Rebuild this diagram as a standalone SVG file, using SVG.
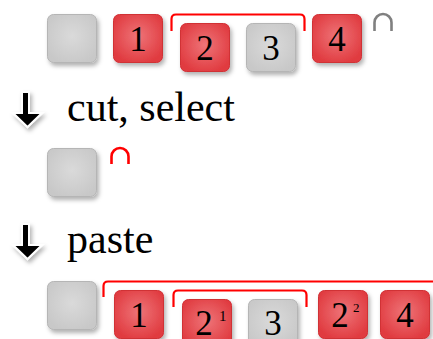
<svg xmlns="http://www.w3.org/2000/svg" width="433" height="339" viewBox="0 0 433 339">
<defs>
<radialGradient id="gr" cx="50%" cy="45%" r="60%">
<stop offset="0" stop-color="#ee7478"/>
<stop offset="1" stop-color="#e03a3f"/>
</radialGradient>
<radialGradient id="gg" cx="50%" cy="45%" r="60%">
<stop offset="0" stop-color="#dadada"/>
<stop offset="1" stop-color="#c8c8c8"/>
</radialGradient>
<filter id="sh" x="-30%" y="-30%" width="170%" height="170%">
<feDropShadow dx="2" dy="3" stdDeviation="2.2" flood-color="#000" flood-opacity="0.3"/>
</filter>
<path id="arr" d="M22,92 H29 V113 H42 L27.5,127 L13,113 H22 Z"/>
</defs>
<style>
.r{fill:url(#gr);stroke:#d03035;stroke-width:1;filter:url(#sh)}
.g{fill:url(#gg);stroke:#b5b5b5;stroke-width:1;filter:url(#sh)}
.d{font-family:"Liberation Serif",serif;font-size:35px;fill:#000;text-anchor:middle}
.s{font-family:"Liberation Serif",serif;font-size:15px;fill:#000}
.lbl{font-family:"Liberation Serif",serif;font-size:42px;fill:#000}
.br{fill:none;stroke:#ff0000;stroke-width:2.2}
.cap{fill:none;stroke-width:2.6}
.ar{fill:#000;stroke:#fff;stroke-width:2;filter:url(#sh)}
</style>

<g id="row1">
<g id="r1-empty"><rect class="g" x="47.5" y="14.5" width="49" height="48" rx="6"/></g>
<g id="r1-n1"><rect class="r" x="113.5" y="14.5" width="49" height="48" rx="6"/><text class="d" x="138" y="51">1</text></g>
<g id="r1-n2"><rect class="r" x="180.5" y="23.5" width="49" height="48" rx="6"/><text class="d" x="205" y="60">2</text></g>
<g id="r1-n3"><rect class="g" x="246.5" y="23.5" width="49" height="48" rx="6"/><text class="d" x="271" y="60">3</text></g>
<g id="r1-n4"><rect class="r" x="312.5" y="14.5" width="49" height="48" rx="6"/><text class="d" x="337" y="51">4</text></g>
</g>

<g id="connectors">
<path class="br" d="M171.5,31 V19 Q171.5,14.5 176,14.5 H300 Q304.5,14.5 304.5,19 V31"/>
<path class="cap" stroke="#808080" d="M374.5,31 V22.5 A8.5,8.5 0 0 1 391.5,22.5 V31"/>
<path class="cap" stroke="#ff0000" d="M111.5,164 V156.5 A8.5,8.5 0 0 1 128.5,156.5 V164"/>
<path class="br" d="M103.5,297 V286 Q103.5,281.5 108,281.5 H440"/>
<path class="br" d="M173.5,307 V295 Q173.5,290.5 178,290.5 H302 Q306.5,290.5 306.5,295 V307"/>
</g>

<g id="step1">
<use href="#arr" class="ar"/>
<text class="lbl" x="67" y="121">cut, select</text>
</g>

<g id="row2">
<g id="r2-empty"><rect class="g" x="47.5" y="148.5" width="49" height="48" rx="6"/></g>
</g>

<g id="step2">
<use href="#arr" class="ar" transform="translate(0,132)"/>
<text class="lbl" x="67" y="253">paste</text>
</g>

<g id="row3">
<g id="r3-empty"><rect class="g" x="47.5" y="281.5" width="49" height="48" rx="6"/></g>
<g id="r3-n1"><rect class="r" x="114.5" y="290.5" width="49" height="48" rx="6"/><text class="d" x="139" y="327">1</text></g>
<g id="r3-n21"><rect class="r" x="182.5" y="299.5" width="49" height="48" rx="6"/><text class="d" x="204" y="335">2</text><text class="s" x="219" y="321">1</text></g>
<g id="r3-n3"><rect class="g" x="248.5" y="299.5" width="49" height="48" rx="6"/><text class="d" x="273" y="335">3</text></g>
<g id="r3-n22"><rect class="r" x="318.5" y="290.5" width="49" height="48" rx="6"/><text class="d" x="340" y="327">2</text><text class="s" x="353" y="312" style="font-size:13px">2</text></g>
<g id="r3-n4"><rect class="r" x="380.5" y="290.5" width="49" height="48" rx="6"/><text class="d" x="405" y="327">4</text></g>
</g>
</svg>
